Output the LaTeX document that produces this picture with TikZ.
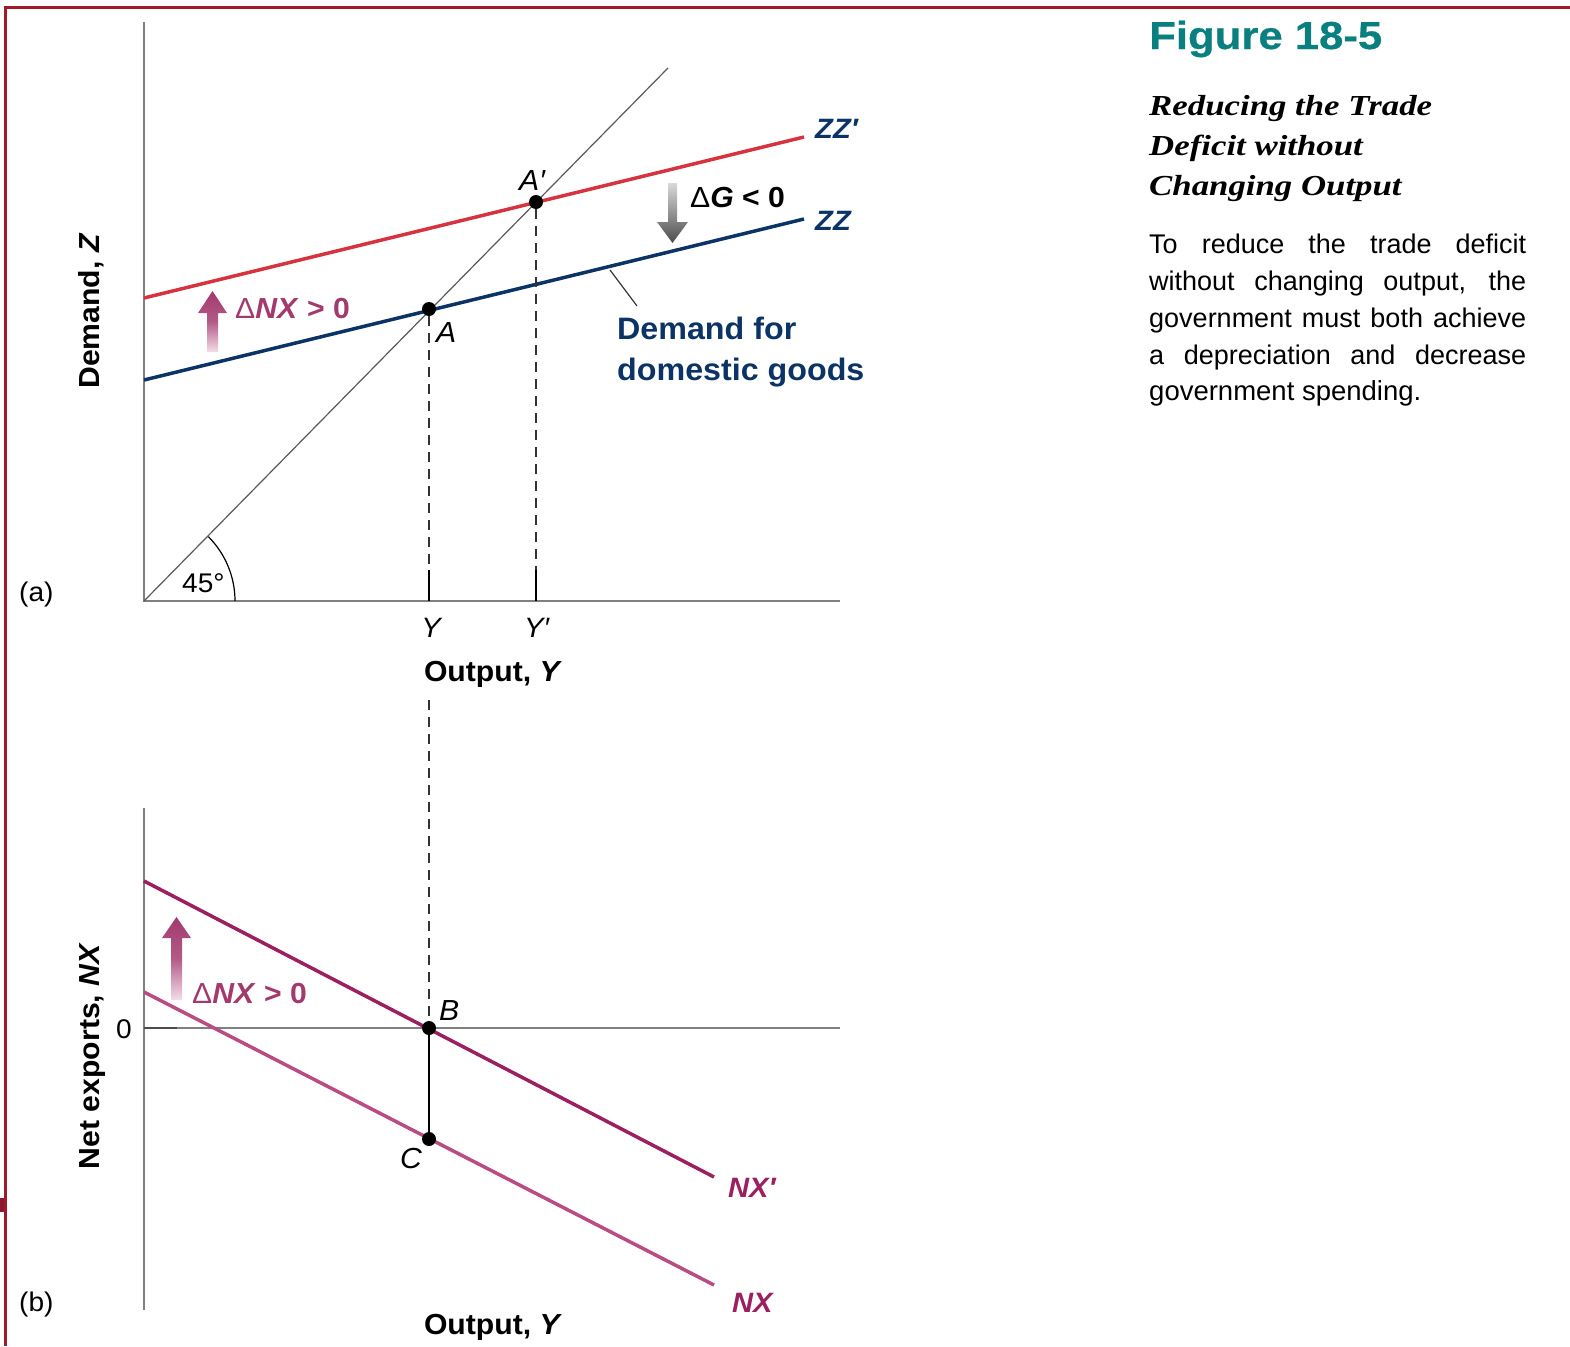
\documentclass[tikz,border=0pt]{standalone}
\usepackage{fontspec}
\setmainfont{Liberation Sans}[FakeStretch=1.04]
\newfontfamily\bodyfont{Liberation Sans}
\newfontfamily\titleserif{Liberation Serif}[FakeStretch=1.2]
\newfontfamily\figfont{Liberation Sans}[FakeStretch=1.12,FakeBold=0.6]
\newcommand\myfs[1]{\fontsize{#1}{#1}\selectfont}
\definecolor{framered}{HTML}{A3192B}
\definecolor{framedark}{HTML}{8B1A2E}
\definecolor{zzred}{HTML}{D6323F}
\definecolor{navy}{HTML}{0B3366}
\definecolor{nxdark}{HTML}{9C1F60}
\definecolor{nxlight}{HTML}{BA4C83}
\definecolor{nxarrow}{HTML}{A23A6E}
\definecolor{nxpale}{HTML}{F3DDE8}
\definecolor{figteal}{HTML}{0A7F80}
\definecolor{axisgray}{HTML}{808080}
\begin{document}
\begin{tikzpicture}[x=1pt,y=-1pt,
  ax/.style={draw=axisgray, line width=1.6},
  line45/.style={draw=black!65, line width=1.2},
  guide/.style={draw=black!80, line width=1.2, dash pattern=on 10pt off 7pt},
  tickline/.style={draw=black, line width=1.5},
  curve/.style={line width=3.5},
  dot/.style={circle, fill=black, inner sep=0, minimum size=14},
  lab/.style={inner sep=0, anchor=base},
  labw/.style={inner sep=0, anchor=base west},
  ptlab/.style={labw, font=\myfs{29}\itshape},
  axlab/.style={lab, font=\myfs{29}\bfseries},
]
\useasboundingbox (0,0) rectangle (1570,1346);
% frame
\draw[framered, line width=3] (5.5,1346) -- (5.5,7.5) -- (1570,7.5);
\fill[framedark] (0,1198) rectangle (4,1212);

% ---------- panel (a) ----------
\coordinate (O) at (144,601);
\coordinate (Otop) at (144,22);
\coordinate (Oright) at (840,601);
\coordinate (d45) at (668,68);
\draw[ax] (Otop) -- (O) -- (Oright);
\draw[line45] (O) -- (d45);
\draw[black, line width=1.2] ([xshift=91pt]O) arc[start angle=0, end angle=45, radius=91pt];

\coordinate (zzpL) at (144,298); \coordinate (zzpR) at (804,137);
\coordinate (zzL) at (144,380);  \coordinate (zzR) at (804,219);
\draw[curve, zzred] (zzpL) -- (zzpR);
\draw[curve, navy] (zzL) -- (zzR);

\node[dot] (A) at (429,309) {};
\node[dot] (Ap) at (536,202) {};

\coordinate (Yt) at (429,570); \coordinate (Yb) at (429,601);
\coordinate (Ypt) at (536,570); \coordinate (Ypb) at (536,601);
\draw[guide] (A) -- (Yt); \draw[tickline] (Yt) -- (Yb);
\draw[guide] (Ap) -- (Ypt); \draw[tickline] (Ypt) -- (Ypb);

\coordinate (pt1) at (610,270); \coordinate (pt2) at (637,306);
\draw[black!80, line width=1.2] (pt1) -- (pt2);

% arrows
\shade[top color=nxarrow, bottom color=nxpale, middle color=nxarrow!80!nxpale]
  (207,352) -- (207,313) -- (198,313) -- (212.5,291) -- (227,313) -- (218,313) -- (218,352) -- cycle;
\shade[top color=black!15, bottom color=black!70]
  (668,183) -- (668,222) -- (657,222) -- (672.5,243) -- (688,222) -- (677,222) -- (677,183) -- cycle;

% labels (a)
\node[axlab, rotate=90] (ylabA) at (99,311) {Demand, \textit{Z}};
\node[labw, font=\myfs{27}] (pa) at (19,601) {(a)};
\node[labw, font=\myfs{27}] (deg) at (182,592) {45°};
\node[lab, font=\myfs{28}\itshape] (Ylab) at (431,637) {Y};
\node[labw, font=\myfs{28}\itshape] (Yplab) at (524,637) {Y′};
\node[axlab] (outA) at (493,681) {Output, \textit{Y}};
\node[ptlab] (Alab) at (436,342) {A};
\node[ptlab] (Aplab) at (519,190) {A′};
\node[labw, font=\myfs{28}\bfseries\itshape, text=navy] (zzplab) at (815,138) {ZZ′};
\node[labw, font=\myfs{28}\bfseries\itshape, text=navy] (zzlab) at (815,230) {ZZ};
\node[labw, font=\myfs{29}\bfseries] (dG) at (690,207) {{\mdseries Δ}\textit{G} < 0};
\node[labw, font=\myfs{29}\bfseries, text=nxarrow] (dNXa) at (235,318) {{\mdseries Δ}\textit{NX} > 0};
\node[labw, font=\myfs{31}\bfseries, text=navy] (dem1) at (617,339) {Demand for};
\node[labw, font=\myfs{31}\bfseries, text=navy] (dem2) at (617,380) {domestic goods};

% ---------- panel (b) ----------
\coordinate (O2) at (144,1028);
\coordinate (O2top) at (144,808);
\coordinate (O2bot) at (144,1310);
\coordinate (O2right) at (840,1028);
\coordinate (O2tick) at (177,1028);
\draw[ax] (O2top) -- (O2bot);
\draw[ax] (O2) -- (O2right);
\draw[black!70, line width=1.6] (O2) -- (O2tick);

\coordinate (nxpL) at (144,881); \coordinate (nxpR) at (714,1177);
\coordinate (nxL) at (144,992);  \coordinate (nxR) at (714,1285);
\draw[curve, nxdark] (nxpL) -- (nxpR);
\draw[curve, nxlight] (nxL) -- (nxR);

\node[dot] (B) at (429,1028) {};
\node[dot] (C) at (429,1139) {};
\coordinate (Gt) at (429,700);
\draw[guide] (Gt) -- (B);
\draw[tickline] (B) -- (C);

\shade[top color=nxarrow, bottom color=nxpale, middle color=nxarrow!80!nxpale]
  (171,1000) -- (171,938) -- (162,938) -- (176.5,917) -- (191,938) -- (182,938) -- (182,1000) -- cycle;

\node[axlab, rotate=90] (ylabB) at (99,1056) {Net exports, \textit{NX}};
\node[labw, font=\myfs{27}] (pb) at (19,1311) {(b)};
\node[lab, font=\myfs{27}] (zero) at (124,1038) {0};
\node[ptlab] (Blab) at (439,1020) {B};
\node[ptlab] (Clab) at (400,1168) {C};
\node[labw, font=\myfs{28}\bfseries\itshape, text=nxdark] (nxplab) at (728,1197) {NX′};
\node[labw, font=\myfs{28}\bfseries\itshape, text=nxdark] (nxlab) at (732,1312) {NX};
\node[labw, font=\myfs{29}\bfseries, text=nxarrow] (dNXb) at (192,1003) {{\mdseries Δ}\textit{NX} > 0};
\node[axlab] (outB) at (493,1334) {Output, \textit{Y}};

% ---------- caption ----------
\node[labw, font=\figfont\myfs{39}\bfseries, text=figteal] (fig) at (1149,49) {Figure 18-5};
\node[labw, font=\titleserif\myfs{29}\bfseries\itshape] (t1) at (1149,115) {Reducing the Trade};
\node[labw, font=\titleserif\myfs{29}\bfseries\itshape] (t2) at (1149,155) {Deficit without};
\node[labw, font=\titleserif\myfs{29}\bfseries\itshape] (t3) at (1149,195) {Changing Output};
\node[labw, font=\bodyfont\myfs{27}] (b1) at (1149,253) {\makebox[377pt][s]{To reduce the trade deficit}};
\node[labw, font=\bodyfont\myfs{27}] (b2) at (1149,290) {\makebox[377pt][s]{without changing output, the}};
\node[labw, font=\bodyfont\myfs{27}] (b3) at (1149,327) {\makebox[377pt][s]{government must both achieve}};
\node[labw, font=\bodyfont\myfs{27}] (b4) at (1149,364) {\makebox[377pt][s]{a depreciation and decrease}};
\node[labw, font=\bodyfont\myfs{27.5}] (b5) at (1149,400) {government spending.};
\end{tikzpicture}
\end{document}
